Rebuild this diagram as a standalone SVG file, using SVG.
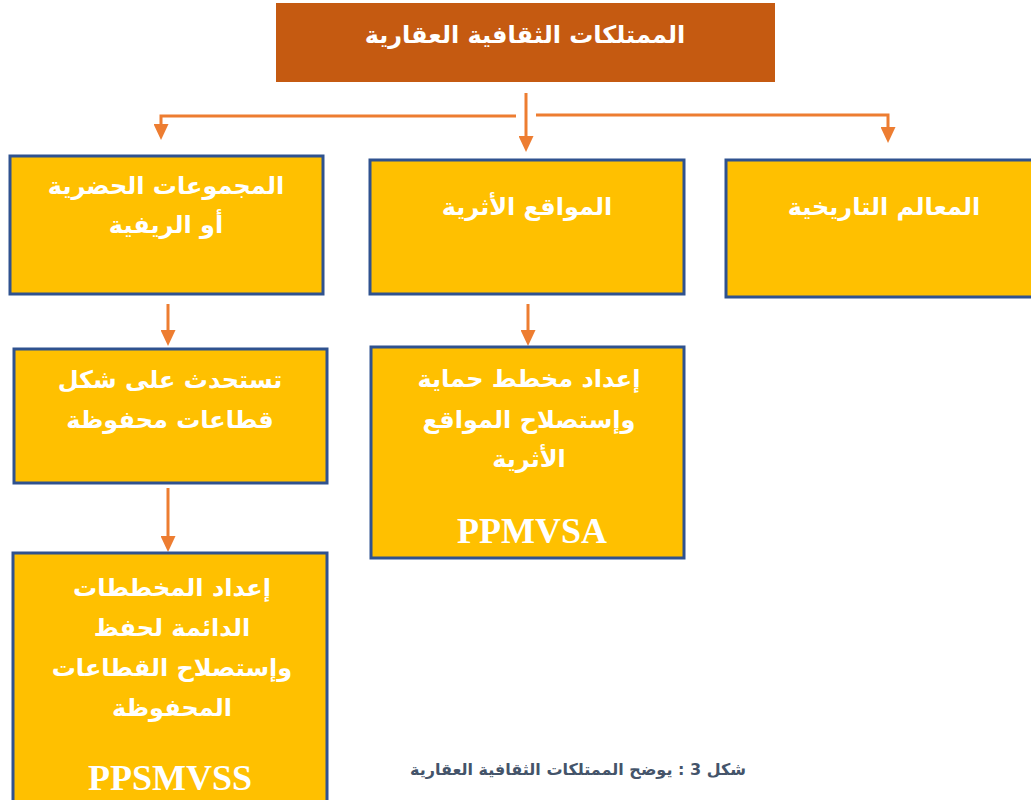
<svg xmlns="http://www.w3.org/2000/svg" width="1031" height="800" viewBox="0 0 1031 800">
<style>
.box{fill:#FFC000;stroke:#2F528F;stroke-width:3}
.t{font-family:"DejaVu Sans",sans-serif;font-weight:bold;fill:#FFFFFF;text-anchor:middle;direction:rtl;font-size:24px}
.lat{font-family:"Liberation Serif",serif;font-weight:bold;fill:#FFFFFF;text-anchor:middle;font-size:36px}
.cap{font-family:"DejaVu Sans",sans-serif;font-weight:bold;fill:#44546A;text-anchor:middle;direction:rtl;font-size:16px}
.c{fill:none;stroke:#ED7D31;stroke-width:3}
</style>
<defs>
<marker id="ah" viewBox="0 0 16 15" refX="0" refY="7.5" markerWidth="16" markerHeight="15" markerUnits="userSpaceOnUse" orient="auto">
<path d="M0,0 L16,7.5 L0,15 z" fill="#ED7D31"/>
</marker>
</defs>
<rect width="1031" height="800" fill="#FFFFFF"/>
<g id="connectors">
<path class="c" d="M526,93 V136" marker-end="url(#ah)"/>
<path class="c" d="M516,116 H161 V124" marker-end="url(#ah)"/>
<path class="c" d="M536,115 H888 V127" marker-end="url(#ah)"/>
<path class="c" d="M168,304 V330" marker-end="url(#ah)"/>
<path class="c" d="M168,488 V536" marker-end="url(#ah)"/>
<path class="c" d="M528,304 V330" marker-end="url(#ah)"/>
</g>
<g id="root">
<rect x="276" y="3" width="499" height="79" fill="#C55A11"/>
<text class="t" x="525" y="43">الممتلكات الثقافية العقارية</text>
</g>
<g id="n-urban">
<rect class="box" x="10" y="156" width="313" height="138"/>
<text class="t" x="166" y="194">المجموعات الحضرية</text>
<text class="t" x="166" y="233">أو الريفية</text>
</g>
<g id="n-sites">
<rect class="box" x="370" y="160" width="314" height="134"/>
<text class="t" x="527" y="215">المواقع الأثرية</text>
</g>
<g id="n-monuments">
<rect class="box" x="726" y="160" width="320" height="137"/>
<text class="t" x="884" y="215">المعالم التاريخية</text>
</g>
<g id="n-sectors">
<rect class="box" x="14" y="349" width="313" height="134"/>
<text class="t" x="170" y="388">تستحدث على شكل</text>
<text class="t" x="170" y="428">قطاعات محفوظة</text>
</g>
<g id="n-ppmvsa">
<rect class="box" x="371" y="347" width="313" height="211"/>
<text class="t" x="529" y="387">إعداد مخطط حماية</text>
<text class="t" x="529" y="428">وإستصلاح المواقع</text>
<text class="t" x="529" y="467">الأثرية</text>
<text class="lat" x="532" y="543">PPMVSA</text>
</g>
<g id="n-ppsmvss">
<rect class="box" x="13" y="553" width="314" height="260"/>
<text class="t" x="172" y="596">إعداد المخططات</text>
<text class="t" x="172" y="636">الدائمة لحفظ</text>
<text class="t" x="172" y="676">وإستصلاح القطاعات</text>
<text class="t" x="172" y="716">المحفوظة</text>
<text class="lat" x="170" y="790">PPSMVSS</text>
</g>
<g id="caption">
<text class="cap" x="578" y="775">شكل 3 : يوضح الممتلكات الثقافية العقارية</text>
</g>
</svg>
